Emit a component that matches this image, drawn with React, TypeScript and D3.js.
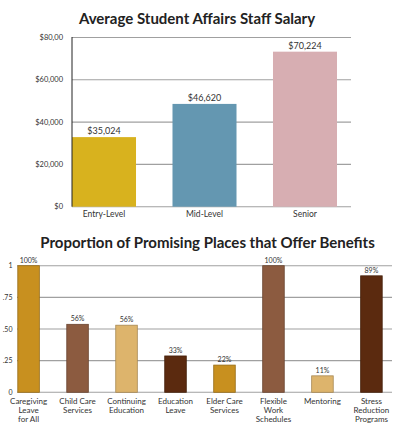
import React from "react";
import * as d3 from "d3";

// 상단 차트: 연봉
const salaryLevels = ["Entry-Level", "Mid-Level", "Senior"];
const salaryValues = [32900, 48600, 73300];
const salaryLabels = ["$35,024", "$46,620", "$70,224"];
const salaryTicks = [0, 20000, 40000, 60000, 80000];
const salaryTickLabels = ["$0", "$20,000", "$40,000", "$60,000", "$80,00"];
const salaryColors = ["#D8B21E", "#6497B1", "#D7AEB2"];

// 하단 차트: 복리후생 비율
const benefitNames = [
  ["Caregiving", "Leave", "for All"],
  ["Child Care", "Services"],
  ["Continuing", "Education"],
  ["Education", "Leave"],
  ["Elder Care", "Services"],
  ["Flexible", "Work", "Schedules"],
  ["Mentoring"],
  ["Stress", "Reduction", "Programs"],
];
const benefitValues = [1.0, 0.537, 0.53, 0.287, 0.215, 1.0, 0.13, 0.92];
const benefitLabels = ["100%", "56%", "56%", "33%", "22%", "100%", "11%", "89%"];
const benefitTicks = [0, 0.25, 0.5, 0.75, 1];
const benefitTickLabels = ["0", ".25", ".50", ".75", "1"];
const benefitColors = ["#C8901F", "#8C5B40", "#DDB46C", "#5B2A0F", "#C8901F", "#8C5B40", "#DDB46C", "#5B2A0F"];

const font = "Lato, 'Open Sans', sans-serif";
const textColor = "#333";
const gridColor = "#a0a0a0";

export default function App() {
  // 상단 스케일
  const x1 = d3.scaleBand<string>().domain(salaryLevels).range([72, 337]).paddingInner(0.363).paddingOuter(0);
  const y1 = d3.scaleLinear().domain([0, 80000]).range([206.7, 37.5]);

  // 하단 스케일
  const keys = benefitNames.map((d) => d.join(" "));
  const x2 = d3.scaleBand<string>().domain(keys).range([8, 392]).paddingInner(0.56).paddingOuter(0.2);
  const y2 = d3.scaleLinear().domain([0, 1]).range([392.3, 265.7]);

  return (
    <svg
      width={400}
      height={429}
      style={{ position: "absolute", left: 0, top: 0, background: "#fff" }}
      fontFamily={font}
    >
      {/* 상단 제목 */}
      <text x={197} y={24} textAnchor="middle" fontSize={15} fontWeight="bold" fill="#222">
        Average Student Affairs Staff Salary
      </text>

      {salaryTicks.map((t, i) => (
        <g key={t}>
          <line x1={72} x2={351} y1={y1(t)} y2={y1(t)} stroke={gridColor} strokeWidth={1.1} />
          <text x={63} y={y1(t) + 2.5} textAnchor="end" fontSize={7.5} fill={textColor}>
            {salaryTickLabels[i]}
          </text>
        </g>
      ))}

      {salaryLevels.map((c, i) => (
        <g key={c}>
          <rect
            x={x1(c)}
            y={y1(salaryValues[i])}
            width={x1.bandwidth()}
            height={y1(0) - y1(salaryValues[i])}
            fill={salaryColors[i]}
          />
          <text
            x={(x1(c) ?? 0) + x1.bandwidth() / 2}
            y={y1(salaryValues[i]) - 3}
            textAnchor="middle"
            fontSize={9}
            fill={textColor}
          >
            {salaryLabels[i]}
          </text>
          <text
            x={(x1(c) ?? 0) + x1.bandwidth() / 2}
            y={217}
            textAnchor="middle"
            fontSize={8.5}
            fill={textColor}
          >
            {c}
          </text>
        </g>
      ))}
      <line x1={72} x2={72} y1={37} y2={y1(0)} stroke="#222" strokeWidth={1} />

      {/* 하단 제목 */}
      <text x={207.5} y={248} textAnchor="middle" fontSize={15} fontWeight="bold" fill="#222">
        Proportion of Promising Places that Offer Benefits
      </text>

      {benefitTicks.map((t, i) => (
        <g key={t}>
          <line x1={17} x2={392} y1={y2(t)} y2={y2(t)} stroke={gridColor} strokeWidth={1.1} />
          <text x={12.5} y={y2(t) + 2.5} textAnchor="end" fontSize={7} fill={textColor}>
            {benefitTickLabels[i]}
          </text>
        </g>
      ))}

      {keys.map((k, i) => {
        const cx = (x2(k) ?? 0) + x2.bandwidth() / 2;
        const col = benefitColors[i];
        return (
          <g key={k}>
            <rect
              x={x2(k)}
              y={y2(benefitValues[i])}
              width={x2.bandwidth()}
              height={y2(0) - y2(benefitValues[i])}
              fill={col}
              stroke={d3.color(col)?.darker(0.8).formatHex()}
              strokeWidth={0.8}
            />
            <text x={cx} y={y2(benefitValues[i]) - 3} textAnchor="middle" fontSize={7} fill={textColor}>
              {benefitLabels[i]}
            </text>
            <text textAnchor="middle" fontSize={8} fill={textColor}>
              {benefitNames[i].map((line, j) => (
                <tspan key={j} x={cx} y={404 + j * 9.2}>
                  {line}
                </tspan>
              ))}
            </text>
          </g>
        );
      })}
    </svg>
  );
}
